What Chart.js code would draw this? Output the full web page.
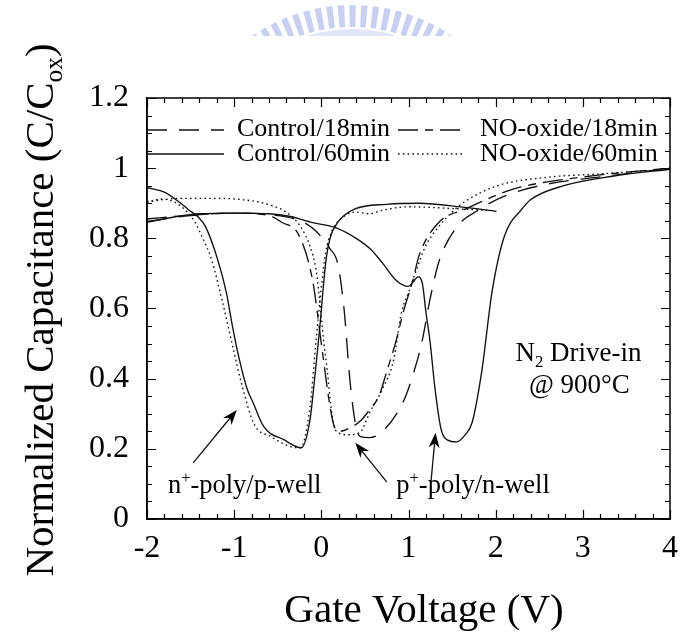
<!DOCTYPE html>
<html><head><meta charset="utf-8">
<script src="https://cdn.jsdelivr.net/npm/chart.js@4.4.1/dist/chart.umd.min.js"></script>
<style>html,body{margin:0;padding:0;background:#fff}canvas{display:block}</style>
</head><body>
<canvas id="c" width="688" height="637"></canvas>
<script>
// ---- data (Gate Voltage V, normalized capacitance C/Cox) ----
// n+-poly/p-well
const nC60_V = [-2,-1.79,-1.64,-1.53,-1.41,-1.33,-1.19,-1.09,-1.02,-0.94,-0.85,-0.78,-0.66,-0.43,-0.23,-0.13,-0.07,-0.02,0.05,0.1,0.19,0.38,0.75,1.12,1.62,2.01];
const nC60_C = [0.945,0.93,0.905,0.883,0.86,0.834,0.74,0.646,0.55,0.454,0.37,0.33,0.263,0.226,0.203,0.283,0.417,0.54,0.73,0.80,0.846,0.883,0.897,0.90,0.889,0.877];
const nN60_V = [-2,-1.85,-1.7,-1.58,-1.45,-1.36,-1.26,-1.14,-1.0,-0.92,-0.77,-0.58,-0.35,-0.24,-0.13,-0.06,0.0,0.05,0.12,0.2,0.4,0.55,0.7,1.0,1.5,1.9];
const nN60_C = [0.90,0.912,0.905,0.885,0.846,0.80,0.74,0.625,0.474,0.39,0.27,0.235,0.206,0.203,0.32,0.51,0.66,0.76,0.82,0.85,0.875,0.87,0.88,0.89,0.885,0.88];
// p+-poly/n-well
const pC18_V = [-2,-1.5,-1.0,-0.5,-0.2,-0.06,0.1,0.19,0.26,0.33,0.4,0.45,0.55,0.72,0.95,1.05,1.15,1.25,1.35,1.56,1.8,2.1,2.6,3.2,4];
const pC18_C = [0.848,0.865,0.872,0.865,0.845,0.82,0.77,0.726,0.6,0.39,0.26,0.235,0.232,0.254,0.34,0.41,0.5,0.63,0.734,0.834,0.88,0.92,0.955,0.975,1.0];
const pN18_V = [-2,-1.5,-1.0,-0.6,-0.45,-0.26,-0.1,0.0,0.1,0.15,0.22,0.33,0.45,0.55,0.66,0.75,0.86,0.94,1.05,1.12,1.35,1.65,2.2,3.0,4];
const pN18_C = [0.855,0.866,0.872,0.865,0.845,0.81,0.68,0.5,0.32,0.263,0.25,0.26,0.28,0.31,0.35,0.42,0.51,0.59,0.68,0.75,0.846,0.883,0.94,0.975,1.0];
const pC60_V = [-2,-1.7,-1.4,-1.0,-0.6,-0.37,-0.1,0.17,0.4,0.56,0.7,0.86,1.0,1.05,1.11,1.16,1.2,1.25,1.3,1.37,1.45,1.55,1.65,1.73,1.84,1.96,2.1,2.3,2.4,2.78,3.34,4];
const pC60_C = [0.846,0.86,0.87,0.872,0.87,0.863,0.845,0.83,0.8,0.77,0.73,0.68,0.663,0.675,0.69,0.67,0.59,0.5,0.38,0.26,0.225,0.22,0.24,0.275,0.42,0.65,0.806,0.883,0.91,0.95,0.977,0.997];
const pN60_V = [-2,-1.6,-1.2,-0.9,-0.66,-0.4,-0.24,-0.13,-0.06,-0.02,0.03,0.07,0.11,0.16,0.3,0.44,0.56,0.7,0.83,0.92,1.0,1.09,1.2,1.35,1.5,1.65,2.02,2.59,3.15,4];
const pN60_C = [0.905,0.914,0.914,0.91,0.90,0.874,0.834,0.777,0.71,0.626,0.5,0.42,0.32,0.254,0.24,0.246,0.306,0.37,0.454,0.59,0.645,0.71,0.78,0.834,0.875,0.905,0.95,0.974,0.983,0.997];

const legendLabels = ['Control/18min','NO-oxide/18min','Control/60min','NO-oxide/60min'];
const xTickMin = -2, xTickMax = 4;
const yTickMin = 0, yTickMax = 1.2;

const SERIF = '"Liberation Serif","Times New Roman",serif';
const STYLES = {
  c18: [20, 12],
  n18: [20, 7, 8, 7],
  c60: [],
  n60: [1.6, 3.2]
};
function pts(V, C){ return V.map((v,i)=>({x:v, y:C[i]})); }
function ds(V, C, dash){
  return {data: pts(V,C), borderColor:'#111', borderWidth:1.35, borderDash:dash,
    pointRadius:0, fill:false, cubicInterpolationMode:'monotone', showLine:true};
}

function richText(ctx, parts, x, y, size, align){
  let w = 0;
  const m = parts.map(p=>{
    const s = p.sub||p.sup ? size*0.62 : size;
    ctx.font = s+'px '+SERIF;
    const pw = ctx.measureText(p.t).width; w += pw; return {p, s, pw};
  });
  let cx = align==='center' ? x - w/2 : (align==='right' ? x - w : x);
  ctx.textAlign='left'; ctx.textBaseline='alphabetic';
  m.forEach(({p,s,pw})=>{
    ctx.font = s+'px '+SERIF;
    const dy = p.sub ? size*0.22 : (p.sup ? -size*0.36 : 0);
    ctx.fillText(p.t, cx, y+dy); cx += pw;
  });
}
function arrow(ctx, x1,y1,x2,y2){
  const a = Math.atan2(y2-y1, x2-x1), L=15, W=5.5;
  ctx.beginPath(); ctx.moveTo(x1,y1);
  ctx.lineTo(x2 - Math.cos(a)*L*0.7, y2 - Math.sin(a)*L*0.7); ctx.stroke();
  ctx.beginPath(); ctx.moveTo(x2,y2);
  ctx.lineTo(x2 - Math.cos(a)*L + Math.sin(a)*W, y2 - Math.sin(a)*L - Math.cos(a)*W);
  ctx.lineTo(x2 - Math.cos(a)*L*0.7, y2 - Math.sin(a)*L*0.7);
  ctx.lineTo(x2 - Math.cos(a)*L - Math.sin(a)*W, y2 - Math.sin(a)*L + Math.cos(a)*W);
  ctx.closePath(); ctx.fill();
}

const deco = {
  id:'deco',
  beforeDraw(chart){
    const ctx = chart.ctx;
    // faint watermark arc at top
    ctx.save();
    ctx.beginPath(); ctx.rect(0,0,688,36); ctx.clip();
    ctx.strokeStyle='rgba(165,175,230,0.6)'; ctx.lineWidth=22; ctx.setLineDash([6,5]);
    ctx.beginPath(); ctx.arc(352,182,166,Math.PI*1.2,Math.PI*1.8); ctx.stroke();
    ctx.setLineDash([]); ctx.strokeStyle='rgba(200,206,242,0.5)'; ctx.lineWidth=14;
    ctx.beginPath(); ctx.arc(352,182,146,Math.PI*1.2,Math.PI*1.8); ctx.stroke();
    ctx.restore();
  },
  afterDraw(chart){
    const ctx = chart.ctx, a = chart.chartArea, xs = chart.scales.x, ys = chart.scales.y;
    ctx.save();
    ctx.strokeStyle='#000'; ctx.fillStyle='#000'; ctx.lineWidth=1.5; ctx.setLineDash([]);
    // frame
    ctx.strokeRect(a.left, a.top, a.right-a.left, a.bottom-a.top);
    // ticks (inward)
    ctx.lineWidth=1.2;
    for(let i=0;i<=30;i++){
      const v = xTickMin + i*0.2, px = Math.round(xs.getPixelForValue(v))+0.5;
      const L = (i%5===0) ? 9 : 5;
      ctx.beginPath(); ctx.moveTo(px,a.bottom); ctx.lineTo(px,a.bottom-L);
      ctx.moveTo(px,a.top); ctx.lineTo(px,a.top+L); ctx.stroke();
    }
    for(let i=0;i<=24;i++){
      const v = yTickMin + i*0.05, py = Math.round(ys.getPixelForValue(v))+0.5;
      const L = (i%4===0) ? 9 : 5;
      ctx.beginPath(); ctx.moveTo(a.left,py); ctx.lineTo(a.left+L,py);
      ctx.moveTo(a.right,py); ctx.lineTo(a.right-L,py); ctx.stroke();
    }
    // legend
    const rows = [[0,1],[2,3]];
    const sampleX = [[147,224],[398,464]], textX=[237,480];
    const rowY=[130,154], textY=[136,161];
    const dsets = [STYLES.c18, STYLES.n18, STYLES.c60, STYLES.n60];
    ctx.lineWidth=1.3; ctx.strokeStyle='#111';
    rows.forEach((r,ri)=>r.forEach((k,ci)=>{
      ctx.setLineDash(dsets[k]);
      ctx.beginPath(); ctx.moveTo(sampleX[ci][0], rowY[ri]); ctx.lineTo(sampleX[ci][1], rowY[ri]); ctx.stroke();
      ctx.setLineDash([]);
      ctx.font='26px '+SERIF; ctx.textAlign='left'; ctx.textBaseline='alphabetic'; ctx.fillStyle='#000';
      ctx.fillText(legendLabels[k], textX[ci], textY[ri]);
    }));
    ctx.setLineDash([]);
    // annotations
    const X = v=>xs.getPixelForValue(v), Y = v=>ys.getPixelForValue(v);
    ctx.lineWidth=1.3;
    arrow(ctx, X(-1.47),Y(0.16), X(-0.97),Y(0.311));
    arrow(ctx, X(0.75),Y(0.106), X(0.39),Y(0.217));
    arrow(ctx, X(1.26),Y(0.111), X(1.31),Y(0.246));
    richText(ctx,[{t:'n'},{t:'+',sup:true},{t:'-poly/p-well'}], X(-1.76), Y(0.074), 26.5, 'left');
    richText(ctx,[{t:'p'},{t:'+',sup:true},{t:'-poly/n-well'}], X(0.86), Y(0.074), 26.5, 'left');
    richText(ctx,[{t:'N'},{t:'2',sub:true},{t:' Drive-in'}], X(2.95), Y(0.449), 27, 'center');
    richText(ctx,[{t:'@ 900°C'}], X(2.96), Y(0.36), 27, 'center');
    // axis titles
    richText(ctx,[{t:'Gate Voltage (V)'}], 424, 622, 41, 'center');
    ctx.translate(53, 310); ctx.rotate(-Math.PI/2);
    richText(ctx,[{t:'Normalized Capacitance (C/C'},{t:'ox',sub:true},{t:')'}], 0, 0, 41, 'center');
    ctx.restore();
  }
};

const fmt = v => String(+Number(v).toFixed(2));

new Chart(document.getElementById('c'), {
  type:'scatter',
  data:{datasets:[
    ds(nC60_V,nC60_C,STYLES.c60),
    ds(nN60_V,nN60_C,STYLES.n60),
    ds(pC18_V,pC18_C,STYLES.c18),
    ds(pN18_V,pN18_C,STYLES.n18),
    ds(pC60_V,pC60_C,STYLES.c60),
    ds(pN60_V,pN60_C,STYLES.n60)
  ]},
  options:{
    responsive:false, animation:false, devicePixelRatio:1,
    layout:{padding:{top:98,right:9,left:0,bottom:0}},
    plugins:{legend:{display:false}, tooltip:{enabled:false}},
    scales:{
      x:{type:'linear', min:xTickMin, max:xTickMax,
        ticks:{stepSize:1, color:'#000', font:{family:SERIF,size:32}, padding:10, maxRotation:0, callback:fmt},
        grid:{display:false, drawTicks:false}, border:{display:true,color:'#000',width:1.5},
        afterFit(s){ s.height = 118; }},
      y:{type:'linear', min:yTickMin, max:yTickMax,
        ticks:{stepSize:0.2, color:'#000', font:{family:SERIF,size:32}, padding:18, callback:fmt},
        grid:{display:false, drawTicks:false}, border:{display:true,color:'#000',width:1.5},
        afterFit(s){ s.width = 147; }}
    }
  },
  plugins:[deco]
});
</script>
</body></html>
